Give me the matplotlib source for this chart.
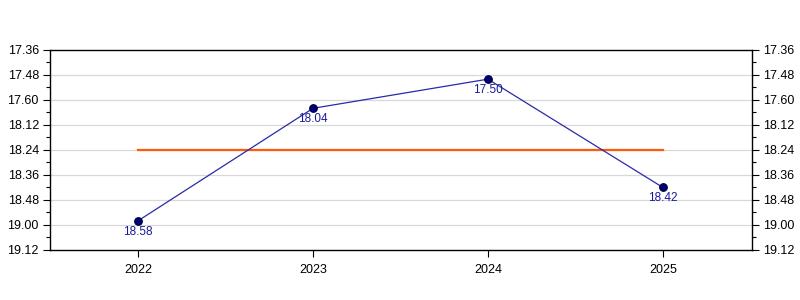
import matplotlib
matplotlib.use('Agg')
import matplotlib.pyplot as plt
from matplotlib.ticker import FixedLocator

plt.rcParams['font.family'] = ['Liberation Sans', 'DejaVu Sans']

# data: times written as minutes.seconds
years = ['2022', '2023', '2024', '2025']
times = [18.58, 18.04, 17.50, 18.42]
average = 18.24
tick_labels = ['17.36', '17.48', '17.60', '18.12', '18.24', '18.36', '18.48', '19.00', '19.12']


def to_seconds(t):
	m = int(t)
	s = round((t - m) * 100)
	return m * 60 + s


secs = [to_seconds(t) for t in times]
avg_secs = to_seconds(average)
tick_start = to_seconds(17.36)
tick_pos = [tick_start + 12 * i for i in range(len(tick_labels))]
x = list(range(len(years)))

fig = plt.figure(figsize=(8, 3), dpi=100)
ax = fig.add_axes([0.0625, 0.1667, 0.8775, 0.6667])

ax.plot([x[0], x[-1]], [avg_secs, avg_secs], color='#ff5a0a', lw=1.6, zorder=2)
ax.plot(x, secs, color='#2a2aaa', lw=0.9, zorder=3)
ax.plot(x, secs, 'o', ms=5.5, mfc='#000080', mec='#000033', mew=0.8, zorder=4)
for xi, s, t in zip(x, secs, times):
	ax.annotate(f'{t:.2f}', (xi, s), xytext=(0, -3.5), textcoords='offset points',
				ha='center', va='top', fontsize=8.5, color='#1a1a9a')

ax.set_xlim(-0.503, 3.509)
ax.set_ylim(tick_pos[-1], tick_pos[0])
ax.set_yticks(tick_pos)
ax.set_yticklabels(tick_labels)
ax.yaxis.set_minor_locator(FixedLocator([p + 6 for p in tick_pos[:-1]]))
ax.set_xticks(x)
ax.set_xticklabels(years)

for p in tick_pos[1:-1]:
	ax.axhline(p, color='#d8d8d8', lw=0.9, zorder=1)

ax.tick_params(axis='y', which='both', left=True, right=True, labelleft=True, labelright=True,
			   direction='out', labelsize=9, colors='black')
ax.tick_params(axis='y', which='major', length=5, width=0.8, pad=3)
ax.tick_params(axis='y', which='minor', length=3, width=0.8)
ax.tick_params(axis='x', which='major', length=5, width=0.8, labelsize=9, pad=5)
for sp in ax.spines.values():
	sp.set_linewidth(1.0)

fig.savefig('out.png', dpi=100)
